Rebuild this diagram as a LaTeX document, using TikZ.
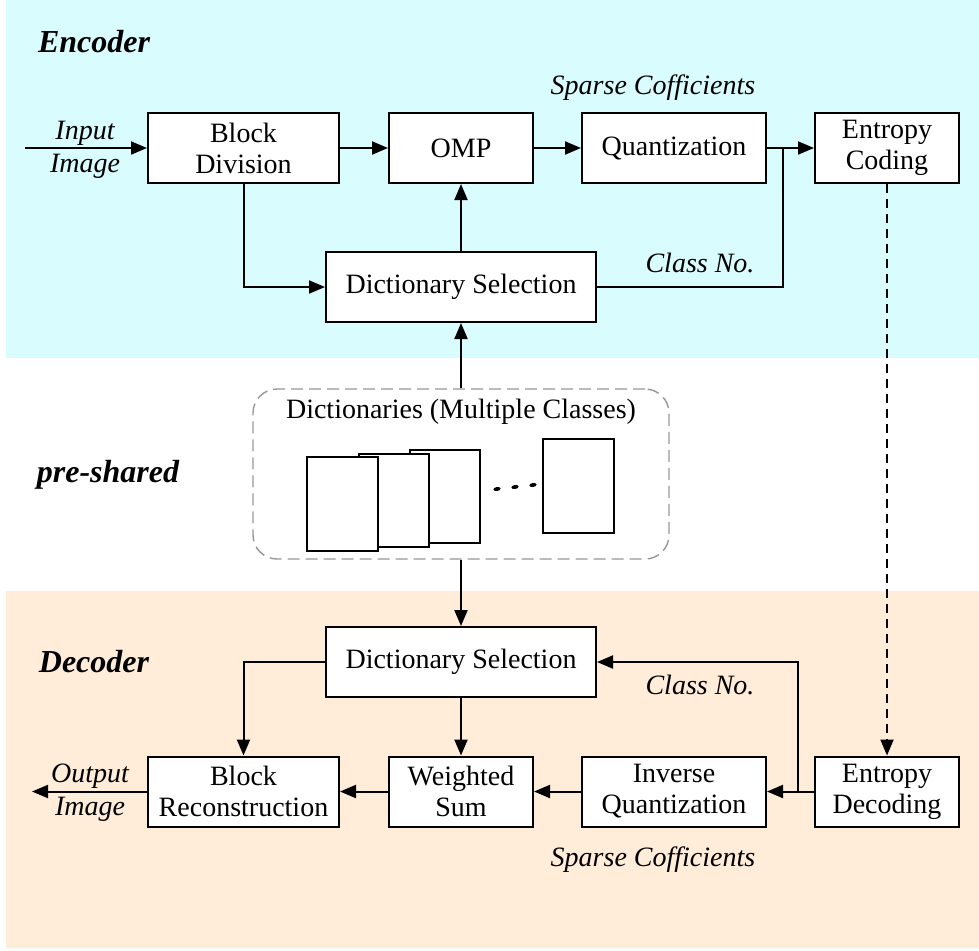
\documentclass[tikz,border=0pt]{standalone}
\usepackage{fontspec}
\setmainfont{Liberation Serif}
\usetikzlibrary{arrows.meta}
\definecolor{enccol}{RGB}{217,252,255}
\definecolor{deccol}{RGB}{255,236,217}
\definecolor{grayline}{RGB}{150,150,150}
\begin{document}
\begin{tikzpicture}[x=0.5pt,y=-0.5pt,
  box/.style={draw,line width=1pt,fill=white,align=center,inner sep=0pt,
    minimum height=35pt,font=\fontsize{14}{15.5}\selectfont},
  lbl/.style={font=\fontsize{14}{16.5}\itshape,align=center,inner sep=0pt},
  hdr/.style={font=\fontsize{16}{18}\bfseries\itshape,inner sep=0pt},
  conn/.style={line width=1pt,-{Triangle[length=8pt,width=6.5pt]}},
  plain/.style={line width=1pt},
  dict/.style={draw,line width=1pt,fill=white}]
\useasboundingbox (0,0) rectangle (979,950);
\fill[enccol] (6,0) rectangle (979,358);
\fill[deccol] (6,591) rectangle (979,948);

% headers
\node[hdr] (enc) at (94,42) {Encoder};
\node[hdr] (pre) at (108,475) {pre-shared};
\node[hdr] (dec) at (94,662) {Decoder};

% encoder boxes
\node[box,minimum width=95.5pt] (bd) at (243.5,148) {Block\\Division};
\node[box,minimum width=72pt] (omp) at (461,148) {OMP};
\node[box,minimum width=92pt] (qz) at (674,148) {Quantization};
\node[box,minimum width=72pt] (ec) at (887,148) {Entropy\\Coding};
\node[box,minimum width=135pt] (ds1) at (461,287) {Dictionary Selection};

\coordinate (inp) at (25,148);
\node[lbl] (inl1) at (85,133) {Input};
\node[lbl] (inl2) at (85,166) {Image};
\coordinate (j1) at (783,148);
\node[lbl] (sc1) at (653,88) {Sparse Cofficients};
\node[lbl] (cn1) at (700,263) {Class No.};

\draw[conn] (inp) -- (bd);
\draw[conn] (bd) -- (omp);
\draw[conn] (omp) -- (qz);
\draw[conn] (qz) -- (ec);
\draw[plain] (ds1.east) -| (j1);
\draw[conn] (bd.south) |- (ds1.west);
\draw[conn] (ds1) -- (omp);

% pre-shared dictionaries
\node[draw=grayline,dashed,dash pattern=on 6pt off 3pt,line width=0.7pt,rounded corners=12pt,
  minimum width=208pt,minimum height=85pt,inner sep=0pt] (dicts) at (461,474) {};
\node[font=\fontsize{14}{16}\selectfont,inner sep=0pt] (dtitle) at (461,412) {Dictionaries (Multiple Classes)};
\draw[dict] (410,450) rectangle (480,543);
\draw[dict] (359,454) rectangle (429,547);
\draw[dict] (307,457) rectangle (378,551);
\draw[dict] (543,439) rectangle (614,533);
\foreach \px/\py in {497/489,515/487,533/485}
  \fill[rotate around={8:(\px,\py)}] (\px,\py) ellipse (1.8pt and 1pt);

\draw[conn] (dicts.north) -- (ds1.south);

% decoder boxes
\node[box,minimum width=135pt] (ds2) at (461,662) {Dictionary Selection};
\node[box,minimum width=95.5pt] (br) at (243.5,791.5) {Block\\Reconstruction};
\node[box,minimum width=72pt] (ws) at (461,791.5) {Weighted\\Sum};
\node[box,minimum width=92pt] (iq) at (674,791.5) {Inverse\\Quantization};
\node[box,minimum width=72pt] (ed) at (887,791.5) {Entropy\\Decoding};

\coordinate (outp) at (32,791.5);
\node[lbl] (ol1) at (90,776) {Output};
\node[lbl] (ol2) at (90,809) {Image};
\coordinate (j2) at (798,791.5);
\node[lbl] (cn2) at (700,685) {Class No.};
\node[lbl] (sc2) at (653,860) {Sparse Cofficients};

\draw[conn] (dicts.south) -- (ds2.north);
\draw[conn] (ed) -- (iq);
\draw[conn] (iq) -- (ws);
\draw[conn] (ws) -- (br);
\draw[conn] (br) -- (outp);
\draw[conn] (j2) |- (ds2.east);
\draw[conn] (ds2.west) -| (br.north);
\draw[conn] (ds2) -- (ws);

\draw[line width=1pt,dash pattern=on 4.5pt off 3pt,-{Triangle[length=8pt,width=6.5pt]}] (ec.south) -- (ed.north);
\end{tikzpicture}
\end{document}
